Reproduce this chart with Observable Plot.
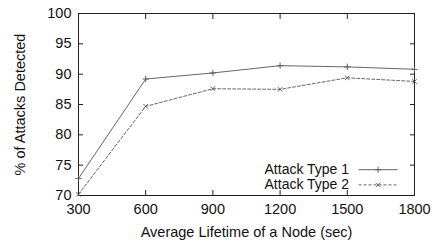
<!DOCTYPE html>
<html><head><meta charset="utf-8">
<script src="https://cdn.jsdelivr.net/npm/d3@7"></script>
<script src="https://cdn.jsdelivr.net/npm/@observablehq/plot@0.6"></script>
<style>body{margin:0;background:#fff;} svg{font-family:"Liberation Sans",Arial,sans-serif;}</style>
</head><body><div id="c"></div>
<script>
const lifetimes = [300, 600, 900, 1200, 1500, 1800];
const type1 = [72.8, 89.2, 90.2, 91.4, 91.2, 90.8];
const type2 = [70.2, 84.7, 87.6, 87.5, 89.4, 88.8];
const seriesNames = ["Attack Type 1", "Attack Type 2"];
const xTicks = [300, 600, 900, 1200, 1500, 1800];
const yTicks = [70, 75, 80, 85, 90, 95, 100];

const rows = [];
lifetimes.forEach((x, i) => {
  rows.push({x, y: type1[i], s: seriesNames[0]});
  rows.push({x, y: type2[i], s: seriesNames[1]});
});
const s1 = rows.filter(d => d.s === seriesNames[0]);
const s2 = rows.filter(d => d.s === seriesNames[1]);
// legend
const leg = [
  {name: seriesNames[0], y: 74.25, sym: "plus"},
  {name: seriesNames[1], y: 71.75, sym: "times"}
];
const legX0 = 1550, legX1 = 1725, legText = 1508;
const col = "#555";

const chart = Plot.plot({
  width: 433, height: 244,
  marginLeft: 78, marginRight: 19, marginTop: 13, marginBottom: 49,
  style: {fontSize: "14.5px", fontFamily: "Liberation Sans, Arial, sans-serif", color: "#111"},
  x: {domain: [300, 1800], ticks: xTicks, label: null},
  y: {domain: [70, 100], ticks: yTicks, label: null},
  marks: [
    Plot.frame({stroke: "#222", strokeWidth: 1}),
    Plot.axisX({anchor: "bottom", ticks: xTicks, tickSize: -5, tickPadding: 13, tickFormat: d => String(d), label: null, fontSize: 14.5, stroke: "#222"}),
    Plot.axisX({anchor: "top", ticks: xTicks, tickSize: -5, tickFormat: () => "", label: null, stroke: "#222"}),
    Plot.axisY({anchor: "left", ticks: yTicks, tickSize: -5, tickPadding: 12, label: null, fontSize: 14.5, stroke: "#222"}),
    Plot.axisY({anchor: "right", ticks: yTicks, tickSize: -5, tickFormat: () => "", label: null, stroke: "#222"}),
    Plot.line(s1, {x: "x", y: "y", stroke: col, strokeWidth: 0.9}),
    Plot.dot(s1, {x: "x", y: "y", symbol: "plus", r: 2.2, stroke: col, strokeWidth: 0.9}),
    Plot.line(s2, {x: "x", y: "y", stroke: col, strokeWidth: 0.9, strokeDasharray: "3,2"}),
    Plot.dot(s2, {x: "x", y: "y", symbol: "times", r: 2.2, stroke: col, strokeWidth: 0.9}),
    Plot.text(leg, {x: () => legText, y: "y", text: "name", textAnchor: "end", fontSize: 14, fill: "#111"}),
    Plot.link([leg[0]], {x1: () => legX0, x2: () => legX1, y1: "y", y2: "y", stroke: col, strokeWidth: 0.9}),
    Plot.link([leg[1]], {x1: () => legX0, x2: () => legX1, y1: "y", y2: "y", stroke: col, strokeWidth: 0.9, strokeDasharray: "3,2"}),
    Plot.dot(leg, {x: () => (legX0 + legX1) / 2, y: "y", symbol: "sym", r: 2.2, stroke: col, strokeWidth: 0.9}),
    Plot.text(["Average Lifetime of a Node (sec)"], {frameAnchor: "bottom", textAnchor: "middle", dy: 41, fontSize: 14.5, fill: "#111"}),
    Plot.text(["% of Attacks Detected"], {frameAnchor: "left", textAnchor: "middle", dx: -58, rotate: -90, fontSize: 14.5, fill: "#111"})
  ]
});
document.getElementById("c").appendChild(chart);
</script></body></html>
